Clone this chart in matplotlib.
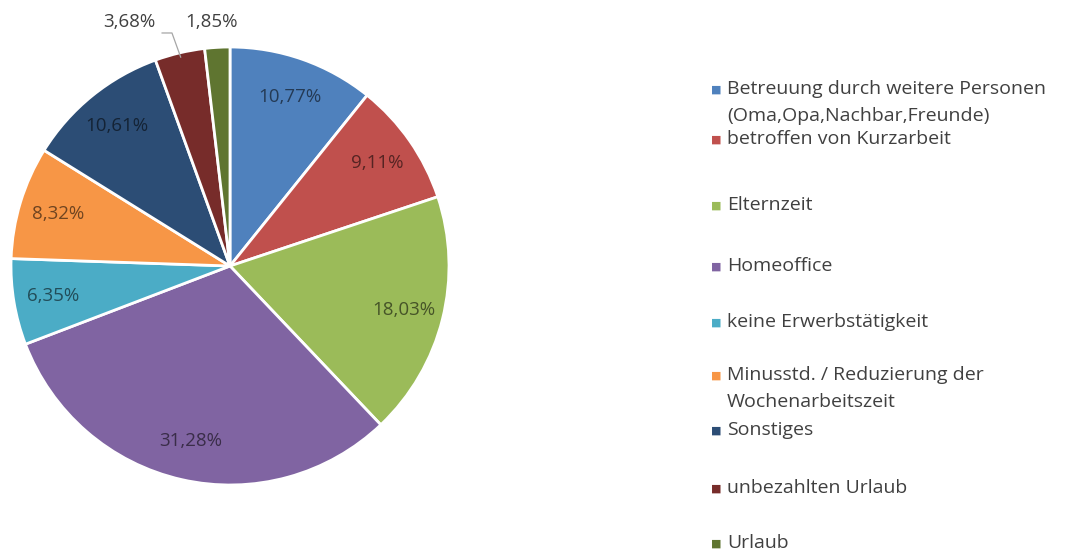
import matplotlib.pyplot as plt
import numpy as np

plt.rcParams['font.family'] = ['Open Sans', 'DejaVu Sans']

# Daten
kategorien = ['Betreuung durch weitere Personen\n(Oma,Opa,Nachbar,Freunde)',
              'betroffen von Kurzarbeit',
              'Elternzeit',
              'Homeoffice',
              'keine Erwerbstätigkeit',
              'Minusstd. / Reduzierung der\nWochenarbeitszeit',
              'Sonstiges',
              'unbezahlten Urlaub',
              'Urlaub']
werte = [10.77, 9.11, 18.03, 31.28, 6.35, 8.32, 10.61, 3.68, 1.85]
farben = ['#4F81BD', '#C0504D', '#9BBB59', '#8064A2', '#4BACC6',
          '#F79646', '#2C4D75', '#772C2A', '#5F7530']

# Lage der Legendeneinträge (Pixel von oben)
leg_y = [89, 139, 205, 266, 322, 375, 430, 488, 543]

def fmt(v):
    return f"{v:.2f}%".replace('.', ',')

fig = plt.figure(figsize=(10.75, 5.51), dpi=100)
W, H = 1075, 551
cx, cy, r = 230, 266, 219
ax = fig.add_axes([(cx - r) / W, (H - cy - r) / H, 2 * r / W, 2 * r / H])

wedges, _ = ax.pie(werte, colors=farben, startangle=90, counterclock=False,
                   radius=1.0, wedgeprops=dict(edgecolor='white', linewidth=2))
ax.set_xlim(-1, 1)
ax.set_ylim(-1, 1)
ax.set_aspect('equal')
ax.axis('off')

# Beschriftungen innen
for i, (w, v) in enumerate(zip(wedges, werte)):
    if v < 5:
        continue
    mid = np.deg2rad((w.theta1 + w.theta2) / 2)
    x, y = np.cos(mid), np.sin(mid)
    rgb = np.array(plt.matplotlib.colors.to_rgb(farben[i]))
    ax.text(0.82 * x, 0.82 * y, fmt(v), ha='center', va='center',
            fontsize=13.5, color=rgb * 0.45)

# kleine Segmente außen
w = wedges[7]
mid = np.deg2rad((w.theta1 + w.theta2) / 2)
px, py = 0.98 * np.cos(mid), 0.98 * np.sin(mid)
ax.plot([-0.31, -0.265, px], [1.064, 1.064, py], color='#A6A6A6', lw=0.9,
        clip_on=False)
ax.text(-0.34, 1.114, fmt(werte[7]), ha='right', va='center',
        fontsize=13.5, color='#404040')
ax.text(-0.205, 1.114, fmt(werte[8]), ha='left', va='center',
        fontsize=13.5, color='#404040')

# Legende
for lab, c, yp in zip(kategorien, farben, leg_y):
    fig.text(711 / W, 1 - (yp + 1) / H, '\u25A0', color=c, fontsize=8,
             ha='left', va='center')
    fig.text(727 / W, 1 - (yp - 9) / H, lab, color='#404040', fontsize=14,
             ha='left', va='top', linespacing=1.62)

fig.savefig('out.png', dpi=100, facecolor='white')
